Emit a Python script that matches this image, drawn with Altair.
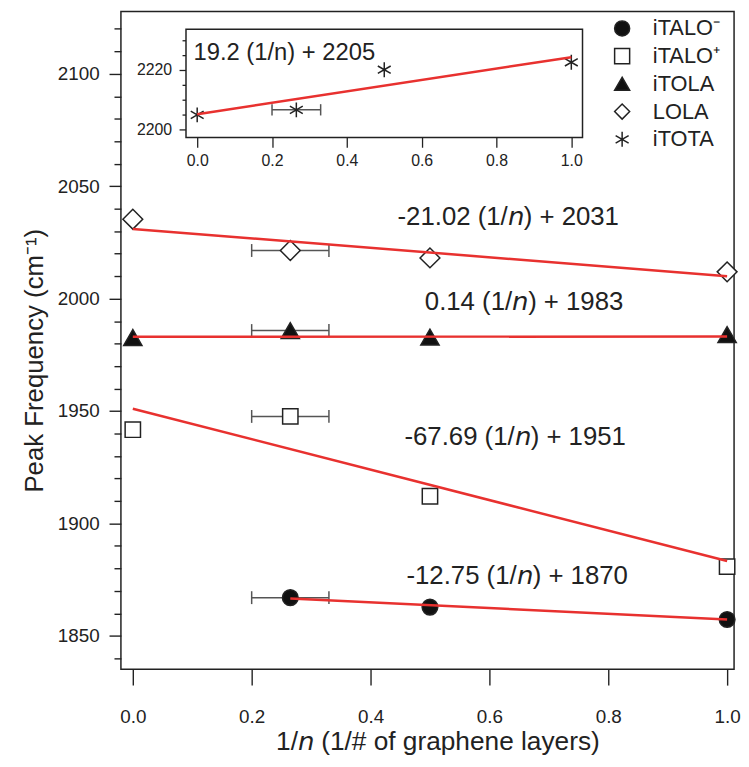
import altair as alt
import pandas as pd

FONT = "Liberation Sans"
STAR = "M0,-1L0,1M-0.866,-0.5L0.866,0.5M-0.866,0.5L0.866,-0.5"
CAP = "M0,-1L0,1"

# ---- data ----
series_order = ["iTALO⁻", "iTALO⁺", "iTOLA", "LOLA", "iTOTA"]

x_italo_minus = [0.265, 0.5, 1.0]
y_italo_minus = [1867.0, 1862.8, 1857.3]

x_four = [0.0, 0.265, 0.5, 1.0]
y_italo_plus = [1941.7, 1947.6, 1912.1, 1880.8]
y_itola = [1982.7, 1985.8, 1982.9, 1984.0]
y_lola = [2035.3, 2021.4, 2018.1, 2011.9]
y_itota = [2204.8, 2206.5, 2220.0, 2222.5]

# horizontal error bar of the 0.265 points
err_lo = 0.2
err_hi = 0.33

# fitted lines (end points)
fit_series = ["iTALO⁻", "iTALO⁺", "iTOLA", "LOLA"]
fit_x0 = [0.265, 0.0, 0.0, 0.0]
fit_x1 = [1.0, 1.0, 1.0, 1.0]
fit_y0 = [1866.62, 1951.0, 1983.0, 2031.0]
fit_y1 = [1857.25, 1883.31, 1983.14, 2009.98]
fit_inset_x = [0.0, 1.0]
fit_inset_y = [2205.0, 2224.2]

fit_labels = ["-12.75 (1/𝘯) + 1870", "-67.69 (1/𝘯) + 1951",
              "0.14 (1/𝘯) + 1983", "-21.02 (1/𝘯) + 2031"]
inset_label = "19.2 (1/n) + 2205"

x_ticks = [0.0, 0.2, 0.4, 0.6, 0.8, 1.0]
y_ticks = list(range(1840, 2130, 10))
inset_y_ticks = list(range(2200, 2235, 5))

# ---- tables ----
rows = []
for x, y in zip(x_italo_minus, y_italo_minus):
    rows.append(("iTALO⁻", x, y))
for name, ys in (("iTALO⁺", y_italo_plus), ("iTOLA", y_itola), ("LOLA", y_lola)):
    for x, y in zip(x_four, ys):
        rows.append((name, x, y))
df_main = pd.DataFrame(rows, columns=["series", "x", "y"])
df_inset = pd.DataFrame({"series": "iTOTA", "x": x_four, "y": y_itota})

err_main = df_main[df_main.x == 0.265].copy()
err_main["lo"] = err_lo
err_main["hi"] = err_hi
err_inset = df_inset[df_inset.x == 0.265].copy()
err_inset["lo"] = err_lo
err_inset["hi"] = err_hi

caps_main = pd.concat([err_main.assign(cx=err_lo), err_main.assign(cx=err_hi)])
caps_inset = pd.concat([err_inset.assign(cx=err_lo), err_inset.assign(cx=err_hi)])

fit_rows = []
for s, a, b, c, d in zip(fit_series, fit_x0, fit_x1, fit_y0, fit_y1):
    fit_rows.append((s, a, c))
    fit_rows.append((s, b, d))
df_fit = pd.DataFrame(fit_rows, columns=["series", "x", "y"])
df_fit_inset = pd.DataFrame({"series": "iTOTA", "x": fit_inset_x, "y": fit_inset_y})

one = pd.DataFrame({"k": [0]})

# ---- styling ----
INK = "#222222"
RED = "#e8312f"
ERR = "#555555"
marker_size = {"iTALO⁻": 250, "iTALO⁺": 240, "iTOLA": 340, "LOLA": 400, "iTOTA": 225}

legend = alt.Legend(title=None, orient="none", legendX=495, legendY=6,
                    labelFontSize=22, labelColor=INK, labelOffset=20,
                    symbolSize=230, symbolStrokeWidth=1.5, rowPadding=6, padding=0,
                    symbolOpacity=1)
shape_enc = alt.Shape("series:N", legend=legend,
                      scale=alt.Scale(domain=series_order,
                                      range=["circle", "square", "triangle-up", "diamond", STAR]))
fill_enc = alt.Fill("series:N", legend=legend,
                    scale=alt.Scale(domain=series_order,
                                    range=["#111111", "white", "#111111", "white", "#111111"]))
stroke_enc = alt.Stroke("series:N", legend=legend,
                        scale=alt.Scale(domain=series_order, range=[INK] * 5))

x_scale = alt.Scale(domain=[-0.02, 1.0117], nice=False, zero=False)
y_scale = alt.Scale(domain=[1835.15, 2127.67], nice=False, zero=False)
x_axis = alt.Axis(values=x_ticks, format=".1f", tickSize=16, tickWidth=1.4, tickColor=INK,
                  domain=False, grid=False, labelFontSize=19, labelColor=INK,
                  labelPadding=23, labelFlush=False, labelOverlap=False,
                  title="1/𝘯 (1/# of graphene layers)", titleFontSize=26.5,
                  titleFontWeight="normal", titleColor=INK, titleX=319.5, titleY=81,
                  titleBaseline="alphabetic", titleAlign="center")
y_axis = alt.Axis(values=y_ticks, format="d", tickWidth=1.4, tickColor=INK,
                  tickSize={"condition": {"test": "datum.value % 50 === 0", "value": 12}, "value": 7},
                  labelExpr="datum.value % 50 === 0 ? datum.label : ''",
                  domain=False, grid=False, labelFontSize=19, labelColor=INK,
                  labelPadding=10, labelFlush=False, labelOverlap=False,
                  title="Peak Frequency (cm⁻¹)", titleFontSize=26, titleFontWeight="normal",
                  titleColor=INK, titleX=-79, titleY=352, titleBaseline="alphabetic",
                  titleAlign="center", titleAngle=270)


def mx(f="x"):
    return alt.X(f"{f}:Q", scale=x_scale, axis=x_axis)


def my(f="y"):
    return alt.Y(f"{f}:Q", scale=y_scale, axis=y_axis)


ix_scale = alt.Scale(domain=[-0.03, 1.03], range=[65.67, 466.03], nice=False, zero=False)
iy_scale = alt.Scale(domain=[2197.2, 2233.6], range=[127.1, 17.9], nice=False, zero=False)
ix_axis = alt.Axis(orient="bottom", offset=-537, values=x_ticks, format=".1f",
                   tickSize=10, tickWidth=1.3, tickColor=INK, domain=False, grid=False,
                   labelFontSize=16, labelColor=INK, labelPadding=5, labelFlush=False,
                   labelOverlap=False, title=None)
iy_axis = alt.Axis(orient="left", offset=-65.7, values=inset_y_ticks, format="d",
                   tickSize={"condition": {"test": "datum.value % 20 === 0", "value": 7}, "value": 4},
                   labelExpr="datum.value % 20 === 0 ? datum.label : ''",
                   tickWidth=1.3, tickColor=INK, domain=False, grid=False,
                   labelFontSize=16, labelColor=INK, labelPadding=7.5, labelFlush=False,
                   labelOverlap=False, title=None)


def ix(f="x"):
    return alt.X(f"{f}:Q", scale=ix_scale, axis=ix_axis)


def iy(f="y"):
    return alt.Y(f"{f}:Q", scale=iy_scale, axis=iy_axis)


def point_layer(df, name, xe, ye):
    return alt.Chart(df[df.series == name]).mark_point(
        filled=True, strokeWidth=1.5, opacity=1, size=marker_size[name]).encode(
        x=xe(), y=ye(), shape=shape_enc, fill=fill_enc, stroke=stroke_enc)


# ---- main panel ----
err_rule = alt.Chart(err_main).mark_rule(color=ERR, strokeWidth=1.5).encode(
    x=mx("lo"), x2="hi:Q", y=my())
err_caps = alt.Chart(caps_main).mark_point(shape=CAP, size=169, stroke=ERR, strokeWidth=1.5,
                                           filled=False, opacity=1).encode(x=mx("cx"), y=my())
pts = [point_layer(df_main, s, mx, my) for s in series_order[:4]]
fits = alt.Chart(df_fit).mark_line(color=RED, strokeWidth=2.5).encode(
    x=mx(), y=my(), detail="series:N")

label_pos = [(400, 578), (398, 438), (407, 301), (391, 215)]
texts = [alt.Chart(one).mark_text(text=t, x=px, y=py, fontSize=26, color=INK,
                                  align="center", baseline="alphabetic")
         for t, (px, py) in zip(fit_labels, label_pos)]

main = alt.layer(err_rule, err_caps, *pts, fits, *texts)

# ---- inset panel ----
frame = alt.Chart(one).mark_rect(fill="white", stroke=INK, strokeWidth=1.5,
                                 x=65.7, x2=466.0, y=17.9, y2=127.1)
ierr = alt.Chart(err_inset).mark_rule(color=ERR, strokeWidth=1.5).encode(
    x=ix("lo"), x2="hi:Q", y=iy())
icaps = alt.Chart(caps_inset).mark_point(shape=CAP, size=130, stroke=ERR, strokeWidth=1.5,
                                         filled=False, opacity=1).encode(x=ix("cx"), y=iy())
ipts = point_layer(df_inset, "iTOTA", ix, iy)
ifit = alt.Chart(df_fit_inset).mark_line(color=RED, strokeWidth=2.5).encode(x=ix(), y=iy())
itext = alt.Chart(one).mark_text(text=inset_label, x=165, y=48.7, fontSize=24, color=INK,
                                 align="center", baseline="alphabetic")

inset = alt.layer(frame, ierr, icaps, ipts, ifit, itext)

chart = alt.layer(main, inset).resolve_scale(x="independent", y="independent").properties(
    width=619, height=664, autosize="none",
    padding={"left": 114, "top": 0, "right": 7, "bottom": 87},
).configure(font=FONT).configure_view(stroke=INK, strokeWidth=1.5)

chart.save("out.html", embed_options={"renderer": "svg", "actions": False})
